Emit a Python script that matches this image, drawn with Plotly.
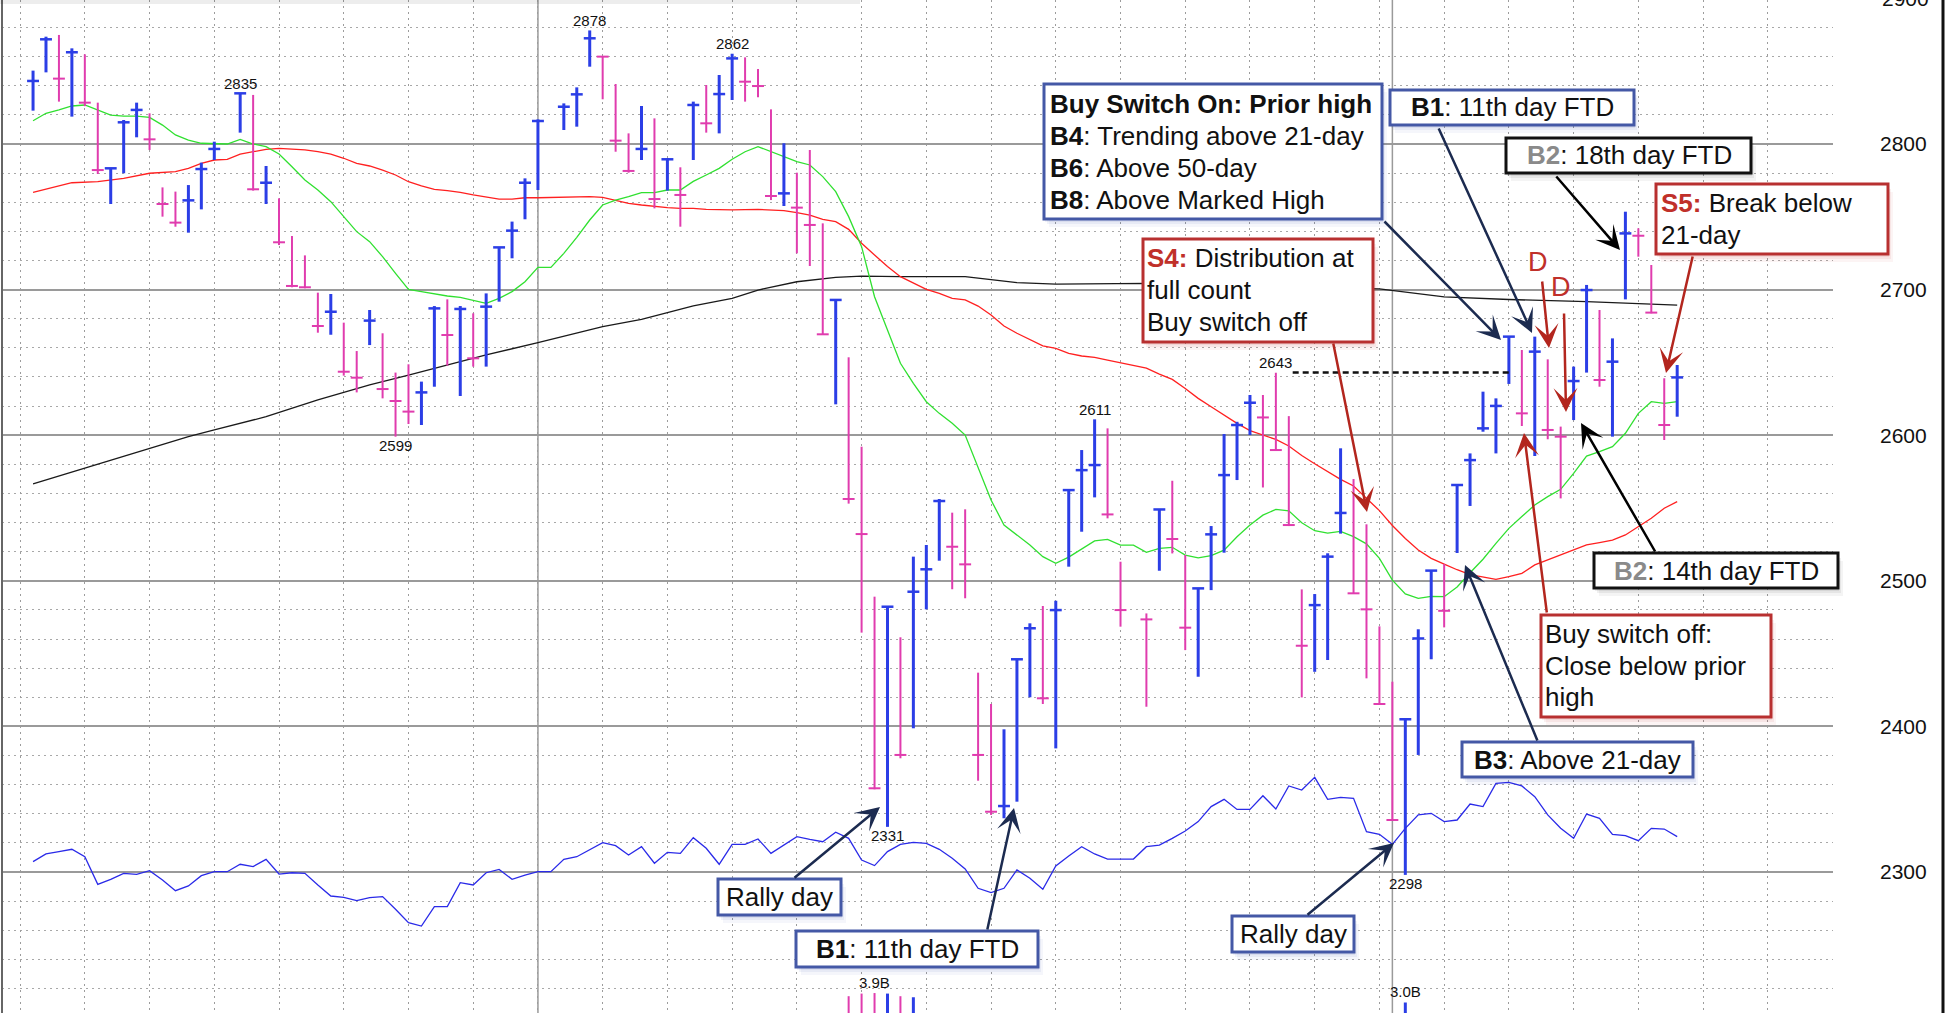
import plotly.graph_objects as go

# ---------------- data ----------------
# trading-day slot numbers (holiday slots 16, 41, 86 have no bar)
slots = [1, 2, 3, 4, 5, 6, 7, 8, 9, 10, 11, 12, 13, 14, 15,
         17, 18, 19, 20, 21, 22, 23, 24, 25, 26, 27, 28, 29, 30, 31, 32, 33, 34, 35, 36, 37, 38, 39, 40,
         42, 43, 44, 45, 46, 47, 48, 49, 50, 51, 52, 53, 54, 55, 56, 57, 58, 59, 60, 61, 62, 63, 64, 65,
         66, 67, 68, 69, 70, 71, 72, 73, 74, 75, 76, 77, 78, 79, 80, 81, 82, 83, 84, 85,
         87, 88, 89, 90, 91, 92, 93, 94, 95, 96, 97, 98, 99, 100, 101, 102, 103, 104, 105, 106, 107,
         108, 109, 110, 111, 112, 113, 114, 115, 116, 117, 118, 119, 120, 121, 122, 123, 124, 125, 126,
         127, 128]
highs = [2850.4, 2873.7, 2874.9, 2865.7, 2861.6, 2828.4, 2783.3, 2816.5, 2828.4, 2821.1, 2770.2, 2767.3,
         2771.8, 2787.2, 2801.6,
         2834.8, 2833.7, 2784.9, 2762.7, 2736.8, 2723.5, 2697.9, 2697.0, 2677.3, 2657.8, 2686.0, 2670.0,
         2643.0, 2648.7, 2636.8, 2688.7, 2693.3, 2688.7, 2683.7, 2697.4, 2729.0, 2746.7, 2776.4, 2816.9,
         2827.9, 2838.9, 2878.0, 2860.0, 2841.2, 2807.3, 2826.1, 2817.6, 2790.2, 2784.0, 2829.1, 2840.5,
         2847.4, 2862.0, 2859.5, 2851.5, 2823.8, 2800.5, 2780.3, 2795.9, 2745.5, 2693.3, 2653.5, 2592.1,
         2489.1, 2482.7, 2461.2, 2516.6, 2524.6, 2556.2, 2546.8, 2549.1, 2436.9, 2415.4, 2398.0, 2446.1,
         2470.8, 2482.7, 2486.3, 2562.3, 2589.8, 2610.9, 2604.7, 2513.1,
         2477.6, 2549.0, 2568.7, 2517.7, 2494.8, 2537.6, 2600.8, 2609.2, 2627.6, 2627.6, 2642.9, 2613.1,
         2494.1, 2490.9, 2518.9, 2591.0, 2569.9, 2538.8, 2468.7, 2430.7, 2405.5,
         2466.7, 2507.2, 2511.5, 2565.8, 2587.5, 2629.9, 2625.3, 2667.7, 2658.5, 2667.7, 2652.1, 2605.9,
         2647.1, 2703.2, 2686.0, 2666.5, 2753.5, 2742.1, 2716.9, 2639.1, 2648.2]
lows = [2822.9, 2849.2, 2829.1, 2818.8, 2826.0, 2779.4, 2758.8, 2779.9, 2804.6, 2795.9, 2750.1, 2743.2,
        2739.1, 2755.1, 2789.0,
        2807.8, 2768.0, 2758.8, 2730.6, 2701.6, 2700.9, 2670.4, 2669.0, 2640.9, 2629.4, 2661.9, 2625.3,
        2599.0, 2607.7, 2607.0, 2633.3, 2647.8, 2626.9, 2647.1, 2647.1, 2691.7, 2721.5, 2748.3, 2768.4,
        2809.6, 2811.9, 2853.1, 2830.7, 2794.7, 2780.3, 2789.0, 2755.8, 2768.0, 2743.2, 2789.0, 2807.8,
        2807.3, 2830.2, 2829.1, 2832.1, 2761.5, 2757.4, 2724.9, 2716.2, 2668.8, 2621.2, 2553.0, 2464.4,
        2356.8, 2331.0, 2378.1, 2398.7, 2480.4, 2513.8, 2494.2, 2488.0, 2362.7, 2339.2, 2336.9, 2348.3,
        2420.0, 2415.4, 2384.9, 2509.7, 2533.7, 2557.3, 2542.9, 2468.5,
        2413.5, 2506.9, 2518.8, 2452.4, 2434.1, 2493.6, 2519.3, 2569.2, 2600.1, 2564.1, 2589.8, 2537.6,
        2419.9, 2437.5, 2445.6, 2532.4, 2491.4, 2433.0, 2414.7, 2335.3, 2298.0,
        2380.4, 2446.1, 2468.0, 2519.1, 2551.4, 2602.4, 2587.5, 2635.2, 2606.3, 2585.7, 2597.2, 2556.6,
        2610.4, 2643.0, 2633.3, 2599.0, 2693.3, 2722.6, 2683.7, 2596.7, 2612.7]
closes = [2843.3, 2871.9, 2844.9, 2863.0, 2828.4, 2782.1, 2783.3, 2814.9, 2823.4, 2803.2, 2758.8, 2746.0,
          2761.3, 2782.8, 2796.6,
          2834.8, 2768.9, 2773.4, 2732.5, 2702.5, 2701.6, 2675.0, 2684.8, 2643.6, 2639.5, 2678.7, 2631.7,
          2623.5, 2616.2, 2629.4, 2687.1, 2668.8, 2686.7, 2652.8, 2688.3, 2729.0, 2740.5, 2773.4, 2815.8,
          2825.6, 2834.1, 2872.6, 2860.0, 2802.3, 2781.5, 2796.6, 2762.2, 2789.5, 2765.0, 2826.8, 2814.2,
          2834.3, 2858.8, 2842.8, 2839.8, 2764.3, 2766.1, 2756.3, 2744.4, 2669.3, 2692.9, 2556.2, 2532.1,
          2357.5, 2482.2, 2380.4, 2492.5, 2507.9, 2554.8, 2523.4, 2511.3, 2380.4, 2341.4, 2345.3, 2446.1,
          2467.4, 2419.3, 2479.9, 2562.3, 2576.0, 2579.5, 2545.6, 2479.9,
          2473.5, 2549.0, 2528.7, 2467.8, 2494.8, 2531.9, 2572.6, 2607.0, 2622.3, 2612.2, 2589.8, 2538.3,
          2455.4, 2483.3, 2516.6, 2546.6, 2491.4, 2480.4, 2415.4, 2335.7, 2404.9,
          2460.4, 2507.0, 2479.4, 2565.8, 2582.9, 2604.7, 2620.1, 2667.7, 2615.0, 2657.4, 2603.6, 2599.0,
          2637.2, 2699.7, 2637.9, 2650.5, 2738.6, 2737.0, 2684.2, 2607.0, 2639.7]

# 21-day moving average (green), one reading per slot 1..128
ma21_slots = list(range(1, 129))
ma21 = [2816.0, 2821.1, 2823.4, 2826.1, 2826.8, 2823.4, 2819.9, 2819.2, 2819.2, 2818.3, 2813.0, 2806.2,
        2802.7, 2800.5, 2800.0, 2800.0, 2803.2, 2800.0, 2798.2, 2793.1, 2784.4, 2775.3, 2768.4, 2760.4,
        2750.1, 2739.8, 2732.9, 2722.6, 2711.2, 2700.2, 2698.6, 2697.0, 2695.6, 2694.7, 2692.9, 2690.6,
        2694.0, 2698.6, 2705.4, 2715.3, 2715.3, 2724.9, 2735.9, 2747.8, 2758.1, 2761.5, 2763.8, 2766.6,
        2766.6, 2768.4, 2768.4, 2774.3, 2778.7, 2783.3, 2789.5, 2794.7, 2798.2, 2794.7, 2791.3, 2787.9,
        2785.6, 2777.6, 2767.3, 2750.1, 2729.5, 2695.1, 2672.3, 2649.4, 2635.6, 2623.0, 2615.0, 2608.2,
        2600.1, 2578.4, 2555.5, 2538.3, 2531.5, 2524.6, 2516.6, 2512.0, 2516.3, 2522.0, 2527.4, 2528.4,
        2524.5, 2524.5, 2519.6, 2522.3, 2523.0, 2517.7, 2515.7, 2517.3, 2521.1, 2530.3, 2538.3, 2545.1,
        2549.0, 2548.1, 2539.8, 2534.4, 2532.8, 2533.9, 2530.3, 2525.4, 2515.4, 2500.5, 2491.0, 2488.0,
        2489.3, 2489.1, 2495.7, 2505.5, 2514.8, 2525.7, 2536.0, 2544.1, 2552.1, 2557.8, 2562.8, 2573.8,
        2585.7, 2588.7, 2592.1, 2601.3, 2615.0, 2623.0, 2621.9, 2623.0]

# 50-day moving average (red), readings at these slots
ma50_slots = [1, 4, 6, 8, 10, 12, 13, 14, 15, 16, 17, 18, 19, 20, 21, 22, 23, 24, 25, 26, 27, 28, 29, 30,
              31, 32, 33, 34, 35, 36, 37, 38, 39, 40, 42, 43, 44, 45, 46, 47, 48, 49, 50, 51, 52, 53, 55,
              57, 59, 60, 61, 62, 63, 64, 65, 66, 67, 68, 69, 70, 71, 72, 73, 74, 75, 76, 77, 78, 79, 80,
              81, 82, 83, 84, 85, 86, 87, 88, 89, 90, 91, 92, 93, 94, 95, 96, 97, 98, 99, 100, 101, 102,
              103, 104, 105, 106, 107, 108, 109, 110, 111, 112, 113, 114, 115, 116, 117, 118, 119, 120,
              121, 122, 123, 124, 125, 126, 127, 128]
ma50 = [2766.8, 2773.4, 2774.1, 2776.4, 2779.9, 2781.0, 2783.3, 2786.7, 2789.0, 2789.5, 2793.1, 2794.7,
        2796.3, 2797.0, 2796.6, 2795.9, 2794.7, 2793.1, 2790.2, 2786.7, 2784.9, 2782.1, 2778.7, 2774.1,
        2771.2, 2768.9, 2768.0, 2766.8, 2765.0, 2763.4, 2762.2, 2762.2, 2763.1, 2763.1, 2763.4, 2763.4,
        2763.8, 2763.4, 2761.5, 2759.2, 2758.1, 2757.0, 2756.3, 2755.8, 2755.8, 2755.1, 2754.7, 2755.1,
        2754.2, 2752.8, 2751.2, 2748.3, 2746.7, 2741.4, 2731.8, 2723.8, 2715.8, 2708.9, 2704.3, 2700.2,
        2697.4, 2694.0, 2692.9, 2688.7, 2682.6, 2675.0, 2670.0, 2665.4, 2661.3, 2659.7, 2656.2, 2654.4,
        2653.5, 2651.6, 2649.8, 2648.2, 2646.0, 2642.0, 2638.3, 2632.1, 2625.3, 2619.5, 2613.8, 2608.1,
        2603.1, 2600.1, 2597.1, 2592.6, 2586.0, 2580.4, 2575.0, 2569.7, 2565.1, 2556.6, 2548.2, 2538.0,
        2529.0, 2521.1, 2515.4, 2511.5, 2507.6, 2504.3, 2502.5, 2501.0, 2502.8, 2505.1, 2510.9, 2514.3,
        2517.7, 2521.6, 2524.6, 2526.2, 2528.0, 2531.5, 2537.2, 2542.9, 2549.8, 2554.4]

# 200-day moving average (black), readings at these slots
ma200_slots = [1, 5, 10, 13, 15, 19, 23, 27, 30, 33, 36, 40, 45, 48, 52, 55, 57, 60, 63, 65, 68, 73, 75,
               77, 80, 84, 87, 90, 95, 100, 105, 110, 115, 121, 128]
ma200 = [2566.5, 2577.2, 2591.0, 2599.0, 2603.6, 2612.7, 2624.2, 2634.5, 2641.3, 2648.2, 2655.1, 2663.6,
         2674.5, 2679.6, 2688.8, 2694.0, 2699.7, 2705.4, 2708.4, 2709.3, 2708.9, 2708.9, 2707.1, 2704.8,
         2703.8, 2704.3, 2704.3, 2703.5, 2702.5, 2701.5, 2700.5, 2695.0, 2693.2, 2691.7, 2689.4]

# relative-strength line (blue, lower part), in price-axis units
rs_slots = list(range(1, 129))
rs_line = [2307.1, 2312.4, 2314.0, 2315.6, 2310.5, 2291.5, 2295.0, 2299.1, 2298.4, 2300.9, 2294.5, 2287.2,
           2290.4, 2297.5, 2300.2, 2300.2, 2305.3, 2303.7, 2308.7, 2298.6, 2299.5, 2299.1, 2291.1, 2283.5,
           2282.6, 2280.3, 2282.4, 2283.1, 2274.4, 2265.2, 2262.9, 2276.2, 2276.2, 2292.7, 2291.1, 2299.5,
           2301.8, 2295.0, 2297.9, 2300.2, 2300.2, 2308.7, 2310.5, 2315.6, 2320.2, 2318.1, 2311.7, 2317.4,
           2306.0, 2313.5, 2312.8, 2323.6, 2316.3, 2305.3, 2319.0, 2319.0, 2322.7, 2312.8, 2318.5, 2324.3,
           2322.4, 2320.8, 2327.3, 2323.1, 2308.2, 2304.4, 2314.0, 2319.0, 2320.4, 2319.7, 2315.6, 2309.4,
           2302.1, 2288.8, 2285.8, 2288.8, 2301.4, 2295.7, 2288.1, 2304.1, 2311.0, 2317.4, 2312.4, 2308.9,
           2308.9, 2308.9, 2317.4, 2318.5, 2323.1, 2328.2, 2334.6, 2344.9, 2349.9, 2343.0, 2343.0, 2352.4,
           2343.3, 2359.1, 2356.3, 2365.0, 2349.9, 2351.3, 2350.6, 2327.7, 2325.9, 2319.0, 2330.0, 2339.2,
           2340.3, 2334.6, 2335.7, 2346.7, 2344.9, 2360.9, 2361.6, 2359.1, 2351.7, 2339.2, 2330.0, 2323.1,
           2339.8, 2336.9, 2325.9, 2325.0, 2321.5, 2330.0, 2329.5, 2324.3]

# visible volume bars (billions of shares)
vol_slots = [64, 65, 66, 67, 68, 69, 107]
vol_bn = [3.6, 3.85, 3.9, 3.85, 3.6, 3.5, 3.0]
vol_labels = {66: "3.9B", 107: "3.0B"}

quarter_starts = [40, 106]
marked_high = 2643
marked_high_from, marked_high_to = 98.3, 115
high_label_slots = [17, 44, 55, 83, 97]
low_label_slots = [29, 67, 107]

# ---------------- geometry / style ----------------
W, H = 1954, 1013
PL, PR = 2, 1833
X0_PX, SLOT_PX = 20.1, 12.946
Y_REF, Y_REF_PX, PX_PT = 2800, 144, 1.456

BLUE = "#2b3ee6"
PINK = "#e03cae"
FONT = "Liberation Sans, Arial, Helvetica, sans-serif"
NAVY = "#1c2b50"
DRED = "#b3261e"
BOX_BLUE = "#4458a6"
BOX_RED = "#b83030"
BOX_BLACK = "#111111"


def xd(px):
    return (px - X0_PX) / SLOT_PX


def yd(py):
    return Y_REF - (py - Y_REF_PX) / PX_PT


def ypix(price):
    return Y_REF_PX - (price - Y_REF) * PX_PT


def xp(px):
    return (px - PL) / (PR - PL)


def yp(py):
    return 1 - py / H


x_range = [xd(PL), xd(PR)]
y_range = [yd(H), yd(0)]

up = []
for i, c in enumerate(closes):
    up.append(True if i == 0 else c >= closes[i - 1])

fig = go.Figure()

# moving averages
fig.add_trace(go.Scatter(x=ma200_slots, y=ma200, mode="lines", line=dict(color="#1a1a1a", width=1.3),
                         hoverinfo="skip"))
fig.add_trace(go.Scatter(x=ma50_slots, y=ma50, mode="lines", line=dict(color="#ff2020", width=1.3),
                         hoverinfo="skip"))
fig.add_trace(go.Scatter(x=ma21_slots, y=ma21, mode="lines", line=dict(color="#30e030", width=1.3),
                         hoverinfo="skip"))
fig.add_trace(go.Scatter(x=rs_slots, y=rs_line, mode="lines", line=dict(color="#2a2ae8", width=1.3),
                         yaxis="y3", hoverinfo="skip"))

# HLC bars with centred close tick
TW = 0.46
for is_up, col, lw in [(False, PINK, 2), (True, BLUE, 3)]:
    vx, vy, tx, ty = [], [], [], []
    for s, h, l, c, u in zip(slots, highs, lows, closes, up):
        if u != is_up:
            continue
        vx += [s, s, None]
        vy += [l, h, None]
        tx += [s - TW, s + TW, None]
        ty += [c, c, None]
    fig.add_trace(go.Scatter(x=vx, y=vy, mode="lines", line=dict(color=col, width=lw), hoverinfo="skip"))
    fig.add_trace(go.Scatter(x=tx, y=ty, mode="lines", line=dict(color=col, width=lw - 0.5 if is_up else 2),
                             hoverinfo="skip"))

# volume bars
up_map = dict(zip(slots, up))
for is_up, col, lw in [(False, PINK, 2), (True, BLUE, 3)]:
    vx, vy = [], []
    for s, v in zip(vol_slots, vol_bn):
        if up_map[s] != is_up:
            continue
        vx += [s, s, None]
        vy += [0, v, None]
    fig.add_trace(go.Scatter(x=vx, y=vy, mode="lines", line=dict(color=col, width=lw), yaxis="y2",
                             hoverinfo="skip"))

shapes = []
# quarter start solid verticals
for q in quarter_starts:
    shapes.append(dict(type="line", xref="x", yref="paper", x0=q, x1=q, y0=0, y1=1,
                       line=dict(color="#9a9a9a", width=1.5), layer="below"))
# marked high dashed line
shapes.append(dict(type="line", xref="x", yref="y", x0=marked_high_from, x1=marked_high_to,
                   y0=marked_high, y1=marked_high, line=dict(color="#111", width=2.5, dash="6px,4px"),
                   layer="above"))
# left and right frame lines
shapes.append(dict(type="line", xref="paper", yref="paper", x0=0, x1=0, y0=0, y1=1,
                   line=dict(color="#666", width=2)))
shapes.append(dict(type="line", xref="paper", yref="paper", x0=xp(1943), x1=xp(1943), y0=0, y1=1,
                   line=dict(color="#111", width=3)))
# faint header shadow at top-left
shapes.append(dict(type="rect", xref="paper", yref="paper", x0=xp(0), x1=xp(860), y0=yp(4), y1=yp(0),
                   fillcolor="rgba(0,0,0,0.07)", line=dict(width=0)))

annotations = []


def box(x0, y0, x1, y1, color, shadow):
    for dx, dy, a in [(5, 8, 0.05), (3, 5, 0.07), (1, 3, 0.08)]:
        shapes.append(dict(type="rect", xref="paper", yref="paper", x0=xp(x0 + dx), x1=xp(x1 + dx),
                           y0=yp(y1 + dy), y1=yp(y0 + dy), fillcolor=f"rgba({shadow},{a})",
                           line=dict(width=0), layer="above"))
    shapes.append(dict(type="rect", xref="paper", yref="paper", x0=xp(x0), x1=xp(x1), y0=yp(y1), y1=yp(y0),
                       fillcolor="white", line=dict(color=color, width=3), layer="above"))


def text(t, x, y, anchor="left", size=26, color="#111"):
    annotations.append(dict(text=t, xref="paper", yref="paper", x=xp(x), y=yp(y), xanchor=anchor,
                            yanchor="middle", showarrow=False, borderpad=0, borderwidth=0,
                            font=dict(family=FONT, size=size, color=color)))


def arrow(tail, tip, color, width=2.5):
    annotations.append(dict(text="", xref="x", yref="y", x=xd(tip[0]), y=yd(tip[1]),
                            ax=tail[0] - tip[0], ay=tail[1] - tip[1], axref="pixel", ayref="pixel",
                            showarrow=True, arrowhead=3, arrowsize=1.6, arrowwidth=width,
                            arrowcolor=color, standoff=0))


RED_B = "<span style='color:#c0302a'><b>%s</b></span>"
GRAY_B = "<span style='color:#8a8a8a'><b>%s</b></span>"

box(1044, 84, 1382, 219, BOX_BLUE, "60,80,170")
text("<b>Buy Switch On: Prior high</b>", 1050, 104)
text("<b>B4</b>: Trending above 21-day", 1050, 136)
text("<b>B6</b>: Above 50-day", 1050, 168)
text("<b>B8</b>: Above Marked High", 1050, 200)

box(1390, 90, 1634, 125, BOX_BLUE, "60,80,170")
text("<b>B1</b>: 11th day FTD", 1512, 107.5, "center")

box(1506, 138, 1751, 173, BOX_BLACK, "40,40,40")
text(GRAY_B % "B2" + ": 18th day FTD", 1629, 155.5, "center")

box(1656, 184, 1888, 254, BOX_RED, "190,40,40")
text(RED_B % "S5:" + " Break below", 1661, 203)
text("21-day", 1661, 235)

box(1143, 239, 1373, 342, BOX_RED, "190,40,40")
text(RED_B % "S4:" + " Distribution at", 1147, 258)
text("full count", 1147, 290)
text("Buy switch off", 1147, 322)

box(1541, 615, 1771, 717, BOX_RED, "190,40,40")
text("Buy switch off:", 1545, 634)
text("Close below prior", 1545, 666)
text("high", 1545, 697)

box(1594, 553, 1838, 588, BOX_BLACK, "40,40,40")
text(GRAY_B % "B2" + ": 14th day FTD", 1716, 570.5, "center")

box(1462, 742, 1693, 777, BOX_BLUE, "60,80,170")
text("<b>B3</b>: Above 21-day", 1577.5, 759.5, "center")

box(718, 879, 841, 915, BOX_BLUE, "60,80,170")
text("Rally day", 779.5, 897, "center")

box(796, 931, 1038, 967, BOX_BLUE, "60,80,170")
text("<b>B1</b>: 11th day FTD", 917, 949, "center")

box(1232, 916, 1354, 952, BOX_BLUE, "60,80,170")
text("Rally day", 1293, 934, "center")

# D markers
text("D", 1538, 262, "center", 27, "#c0302a")
text("D", 1560.5, 287, "center", 27, "#c0302a")

# arrows (tail px, tip px)
arrow((1383, 220), (1501, 340), NAVY)
arrow((1438, 127), (1532, 333), NAVY)
arrow((1555, 175), (1620, 250), "#000")
arrow((1693, 255), (1666, 373), DRED)
arrow((1542, 280), (1549, 348), DRED)
arrow((1564, 312), (1566, 412), DRED)
arrow((1333, 342), (1367, 512), DRED)
arrow((1547, 614), (1524, 433), DRED)
arrow((1656, 553), (1581, 423), "#000")
arrow((1538, 742), (1465, 565), NAVY)
arrow((793, 879), (880, 807), NAVY)
arrow((987, 931), (1014, 808), NAVY)
arrow((1306, 916), (1394, 843), NAVY)

# high / low value labels
idx = {s: i for i, s in enumerate(slots)}
for s in high_label_slots:
    annotations.append(dict(text=f"{round(highs[idx[s]])}", x=s, y=highs[idx[s]], xref="x", yref="y",
                            showarrow=False, yanchor="middle", yshift=10,
                            font=dict(family=FONT, size=15, color="#111")))
for s in low_label_slots:
    annotations.append(dict(text=f"{round(lows[idx[s]])}", x=s, y=lows[idx[s]], xref="x", yref="y",
                            showarrow=False, yanchor="middle", yshift=-9,
                            font=dict(family=FONT, size=15, color="#111")))
# volume labels
for s, lab in vol_labels.items():
    annotations.append(dict(text=lab, x=s, y=vol_bn[vol_slots.index(s)], xref="x", yref="y2",
                            showarrow=False, yanchor="middle", yshift=11,
                            font=dict(family=FONT, size=15, color="#111")))
# partially visible 2900 tick label at the very top (outside the y range, so paper-referenced)
annotations.append(dict(text="2900", xref="paper", yref="paper", x=xp(1880), y=yp(ypix(2900)),
                        xanchor="left", yanchor="middle", showarrow=False,
                        font=dict(family=FONT, size=21, color="#111")))

fig.update_layout(
    width=W, height=H,
    margin=dict(l=PL, r=W - PR, t=0, b=0, pad=0),
    paper_bgcolor="white", plot_bgcolor="white",
    showlegend=False,
    xaxis=dict(range=x_range, showticklabels=False, ticks="", zeroline=False, showline=False,
               tick0=0, dtick=5, showgrid=True, gridcolor="#9c9c9c", gridwidth=1, griddash="2px,4px"),
    yaxis=dict(range=y_range, side="right", tick0=0, dtick=100, ticks="", zeroline=False, showline=False,
               showgrid=True, gridcolor="#9a9a9a", gridwidth=1.5,
               minor=dict(dtick=20, tick0=0, showgrid=True, gridcolor="#a8a8a8", gridwidth=1,
                          griddash="2px,4px"),
               tickfont=dict(family=FONT, size=21, color="#111"), ticklabelstandoff=46),
    yaxis2=dict(range=[2.0, 2.0 + H / 10.5], overlaying="y", visible=False),
    yaxis3=dict(range=y_range, overlaying="y", visible=False),
    shapes=shapes,
    annotations=annotations,
)

fig.write_html("out.html", config={"displayModeBar": False},
               post_script="document.body.style.margin='0';document.body.style.overflow='hidden';")
